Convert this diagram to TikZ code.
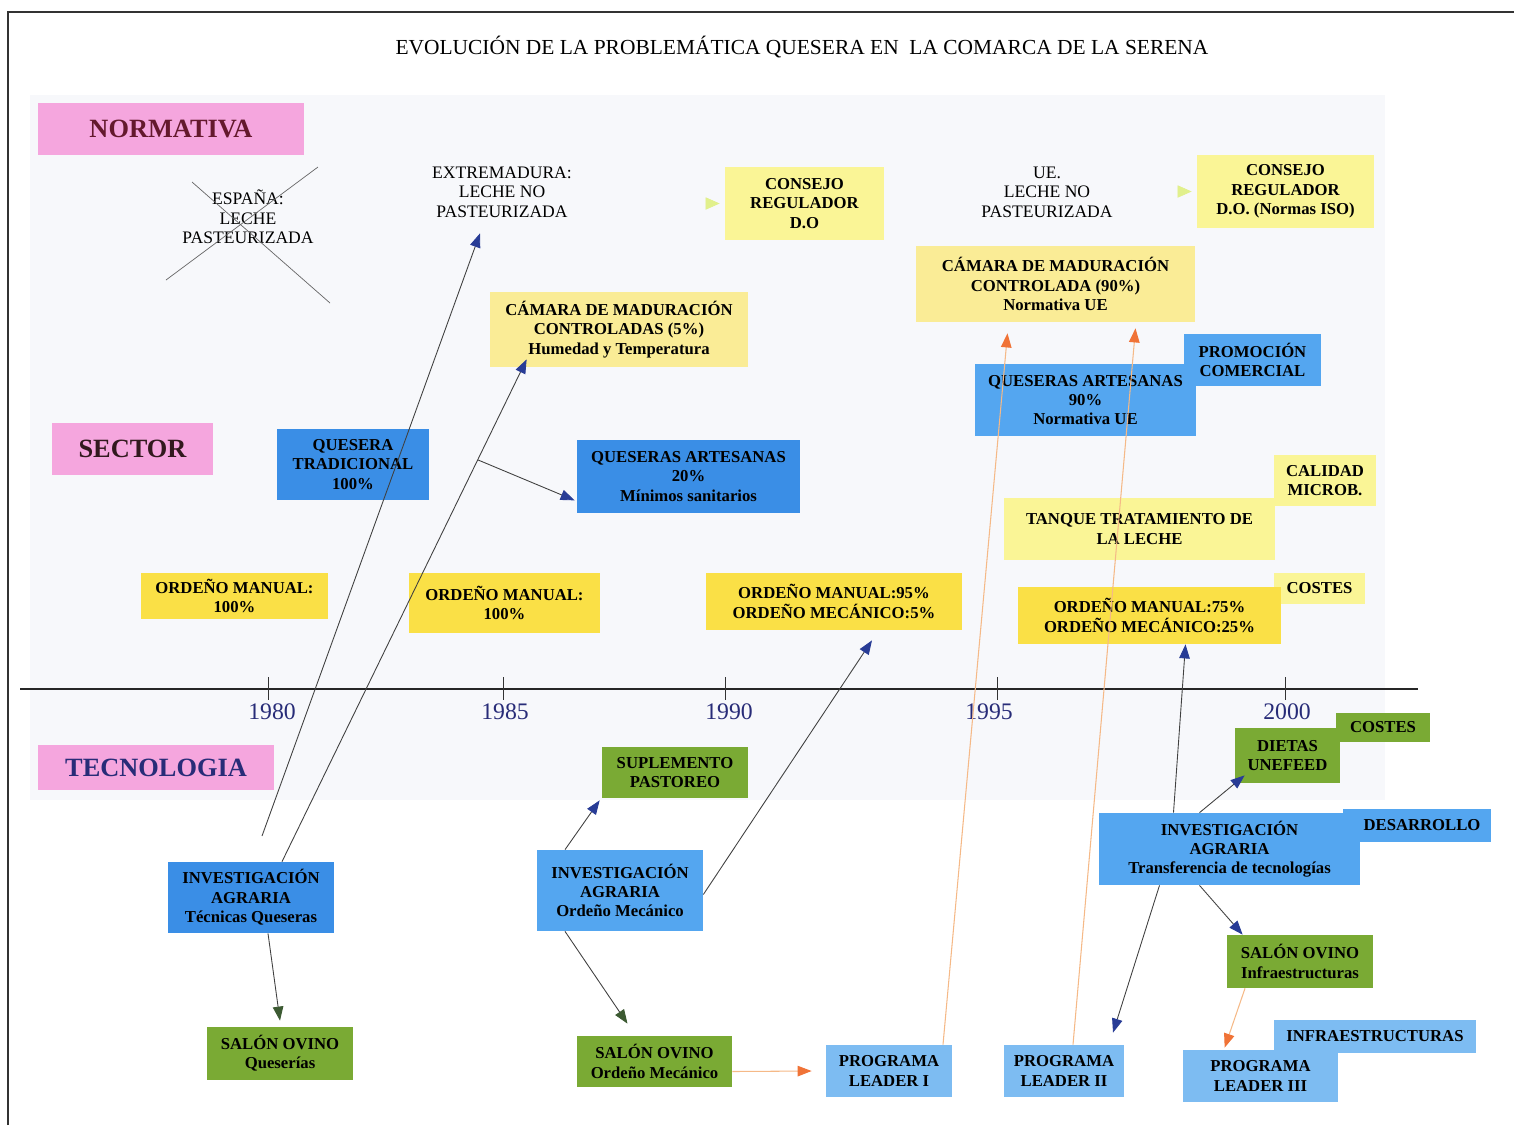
\documentclass[tikz,border=0pt]{standalone}
\usepackage{fontspec}
\setmainfont{Liberation Serif}
\usetikzlibrary{arrows.meta,calc}

\definecolor{rosa}{RGB}{245,166,222}
\definecolor{azul}{RGB}{58,142,230}
\definecolor{azulmedio}{RGB}{84,166,240}
\definecolor{azulclaro}{RGB}{125,188,242}
\definecolor{verde}{RGB}{122,170,52}
\definecolor{oro}{RGB}{250,224,70}
\definecolor{amarillo}{RGB}{250,245,150}
\definecolor{crema}{RGB}{250,236,150}
\definecolor{marino}{RGB}{40,44,120}
\definecolor{punta}{RGB}{40,60,150}
\definecolor{puntaverde}{RGB}{60,90,50}
\definecolor{naranja}{RGB}{240,115,55}
\definecolor{naranjaclaro}{RGB}{245,185,135}
\definecolor{limon}{RGB}{225,240,140}
\definecolor{fondo}{RGB}{247,248,251}

\tikzset{
	caja/.style 2 args={inner sep=1pt, align=center,
		font=\fontsize{9.5}{11}\selectfont\bfseries,
		minimum width=#1*0.2mm, minimum height=#2*0.2mm},
	etiqueta/.style 2 args={fill=rosa, inner sep=1pt,
		font=\fontsize{15}{18}\selectfont\bfseries,
		minimum width=#1*0.2mm, minimum height=#2*0.2mm},
	texto/.style={inner sep=1pt, align=center, font=\fontsize{10}{11}\selectfont},
	anio/.style={inner sep=1pt, text=marino, font=\fontsize{13.5}{15}\selectfont},
	flecha/.style={black!75, line width=0.5pt,
		-{Triangle[length=8pt,width=6pt,color=punta]}},
	flechaverde/.style={black!75, line width=0.5pt,
		-{Triangle[length=8pt,width=6pt,color=puntaverde]}},
	flechanaranja/.style={naranjaclaro, line width=0.6pt,
		-{Triangle[length=8pt,width=6pt,color=naranja]}},
}

\begin{document}
\begin{tikzpicture}[x=0.2mm, y=-0.2mm]
	\useasboundingbox (0,0) rectangle (1514,1125);
	% fondo y marco
	\fill[fondo] (30,95) rectangle (1385,800);
	\draw[line width=0.8pt, black!80] (8,1125) -- (8,12) -- (1514,12);
	% titulo
	\node[inner sep=1pt, font=\fontsize{12.2}{14}\selectfont] (titulo) at (802,47)
		{EVOLUCIÓN DE LA PROBLEMÁTICA QUESERA EN \ LA COMARCA DE LA SERENA};

	% etiquetas de las filas
	\node[etiqueta={266}{52}, text={rgb,255:red,100;green,25;blue,45}] (normativa) at (171,129) {NORMATIVA};
	\node[etiqueta={161}{52}, text={rgb,255:red,50;green,25;blue,30}] (sector) at (132.5,449) {SECTOR};
	\node[etiqueta={236}{45}, text=marino] (tecnologia) at (156,767.5) {TECNOLOGIA};

	% normativa
	\node[texto] (espana) at (248,217) {ESPAÑA:\\LECHE\\PASTEURIZADA};
	\draw[black!60, line width=0.4pt] (166,280) -- (318,167);
	\draw[black!60, line width=0.4pt] (192,182) -- (330,303);
	\node[texto] (extremadura) at (502,192) {EXTREMADURA:\\LECHE NO\\PASTEURIZADA};
	\node[caja={159}{73}, fill=amarillo] (consejoA) at (804.5,203.5) {CONSEJO\\REGULADOR\\D.O};
	\node[texto] (ue) at (1047,192) {UE.\\LECHE NO\\PASTEURIZADA};
	\node[caja={177}{73}, fill=amarillo] (consejoB) at (1285.5,191.5) {CONSEJO\\REGULADOR\\D.O. (Normas ISO)};
	\node[caja={258}{75}, fill=crema] (camaraA) at (619,329.5)
		{CÁMARA DE MADURACIÓN\\CONTROLADAS (5\%)\\Humedad y Temperatura};
	\node[caja={279}{76}, fill=crema] (camaraB) at (1055.5,284)
		{CÁMARA DE MADURACIÓN\\CONTROLADA (90\%)\\Normativa UE};

	% sector
	\node[caja={152}{71}, fill=azul] (tradicional) at (353,464.5) {QUESERA\\TRADICIONAL\\100\%};
	\node[caja={223}{73}, fill=azul] (artesanasA) at (688.5,476.5)
		{QUESERAS ARTESANAS\\20\%\\Mínimos sanitarios};
	\node[caja={137}{52}, fill=azulmedio] (promocion) at (1252.5,360) {PROMOCIÓN\\COMERCIAL};
	\node[caja={221}{72}, fill=azulmedio] (artesanasB) at (1085.5,400)
		{QUESERAS ARTESANAS\\90\%\\Normativa UE};
	\node[caja={102}{51}, fill=amarillo] (calidad) at (1325,480.5) {CALIDAD\\MICROB.};
	\node[caja={271}{62}, fill=amarillo] (tanque) at (1139.5,529) {TANQUE TRATAMIENTO DE\\LA LECHE};
	\node[caja={91}{31}, fill=amarillo] (costesA) at (1319.5,588.5) {COSTES};
	\node[caja={263}{57}, fill=oro] (ordenoD) at (1149.5,615.5)
		{ORDEÑO MANUAL:75\%\\ORDEÑO MECÁNICO:25\%};
	\node[caja={256}{57}, fill=oro] (ordenoC) at (834,601.5)
		{ORDEÑO MANUAL:95\%\\ORDEÑO MECÁNICO:5\%};
	\node[caja={191}{60}, fill=oro] (ordenoB) at (504.5,603) {ORDEÑO MANUAL:\\100\%};
	\node[caja={187}{46}, fill=oro] (ordenoA) at (234.5,596) {ORDEÑO MANUAL:\\100\%};

	% eje del tiempo
	\draw[line width=0.7pt, black!85] (20,689) -- (1418,689);
	\foreach \x/\a/\d in {268/1980/4, 503/1985/2, 725/1990/4, 997/1995/-8, 1285/2000/2} {
		\draw[line width=0.5pt, black!80] (\x,677) -- (\x,700);
		\node[anio] (anio\a) at (\x+\d,712) {\a};
	}

	% tecnologia
	\node[caja={166}{71}, fill=azul] (invtec) at (251,897.5) {INVESTIGACIÓN\\AGRARIA\\Técnicas Queseras};
	\node[caja={146}{53}, fill=verde] (salontec) at (280,1053.5) {SALÓN OVINO\\Queserías};
	\node[caja={146}{51}, fill=verde] (suplemento) at (675,772.5) {SUPLEMENTO\\PASTOREO};
	\node[caja={166}{81}, fill=azulmedio] (invord) at (620,890.5) {INVESTIGACIÓN\\AGRARIA\\Ordeño Mecánico};
	\node[caja={155}{51}, fill=verde] (salonord) at (654.5,1061.5) {SALÓN OVINO\\Ordeño Mecánico};
	\node[caja={126}{52}, fill=azulclaro] (leader1) at (889,1071) {PROGRAMA\\LEADER I};
	\node[caja={120}{52}, fill=azulclaro] (leader2) at (1064,1071) {PROGRAMA\\LEADER II};
	\node[caja={202}{33}, fill=azulclaro] (infra) at (1375,1036.5) {INFRAESTRUCTURAS};
	\node[caja={155}{52}, fill=azulclaro] (leader3) at (1260.5,1076) {PROGRAMA\\LEADER III};
	\node[caja={146}{53}, fill=verde] (saloninf) at (1300,961.5) {SALÓN OVINO\\Infraestructuras};
	\node[caja={148}{33}, fill=azulmedio] (desarrollo) at (1417,825.5) {\hspace*{2mm}DESARROLLO};
	\node[caja={261}{72}, fill=azulmedio] (invtra) at (1229.5,849)
		{INVESTIGACIÓN\\AGRARIA\\Transferencia de tecnologías};
	\node[caja={94}{29}, fill=verde] (costesB) at (1383,727.5) {COSTES};
	\node[caja={105}{55}, fill=verde] (dietas) at (1287.5,755.5) {DIETAS\\UNEFEED};

	% flechas azules desde investigacion
	\coordinate (inicio) at (262,836);
	\draw[flecha] (inicio) -- ($(extremadura.south)+(-22,14)$);
	\coordinate (p1) at ($(invtec.north)+(31,0)$);
	\coordinate (p2) at ($(camaraA.south west)+(37,-8)$);
	\draw[flecha] (p1) -- (p2);
	\coordinate (rama) at ($(p1)!0.8!(p2)$);
	\draw[flecha] (rama) -- ($(artesanasA.south west)+(-2,-13)$);
	\draw[flechaverde] ($(invtec.south)+(17,0)$) -- ($(salontec.north)+(0,-6)$);
	\draw[flecha] ($(invord.north)+(-55,0)$) -- ($(suplemento.south west)+(-2,2)$);
	\draw[flecha] ($(invord.east)+(0,4)$) -- ($(ordenoC.south)+(38,10)$);
	\draw[flechaverde] ($(invord.south)+(-55,0)$) -- ($(salonord.north)+(-27,-12)$);
	\draw[flecha] ($(invtra.north)+(-56,0)$) -- ($(ordenoD.south)+(36,0)$);
	\draw[flecha] ($(invtra.north)+(-30,0)$) -- ($(dietas.south west)+(10,-8)$);
	\draw[flecha] ($(invtra.south)+(-70,0)$) -- ($(leader2.north)+(49,-12)$);
	\draw[flecha] ($(invtra.south)+(-30,0)$) -- ($(saloninf.north west)+(16,0)$);
	% flechas naranjas
	\draw[flechanaranja] ($(salonord.east)+(0,10)$) -- ($(leader1.west)+(-14,0)$);
	\draw[flechanaranja] ($(leader1.north)+(54,0)$) -- ($(camaraB.south)+(-48,11)$);
	\draw[flechanaranja] ($(leader2.north)+(9,0)$) -- ($(camaraB.south)+(80,6)$);
	\draw[flechanaranja] ($(saloninf.south)+(-55,0)$) -- ($(leader3.north west)+(42,-2)$);
	% puntas amarillas junto al consejo
	\draw[limon, line width=0.4pt, -{Triangle[length=8pt,width=7pt,color=limon]}]
		($(consejoA.west)+(-18,0)$) -- ($(consejoA.west)+(-5,0)$);
	\draw[limon, line width=0.4pt, -{Triangle[length=8pt,width=7pt,color=limon]}]
		($(consejoB.west)+(-18,0)$) -- ($(consejoB.west)+(-5,0)$);
\end{tikzpicture}
\end{document}
